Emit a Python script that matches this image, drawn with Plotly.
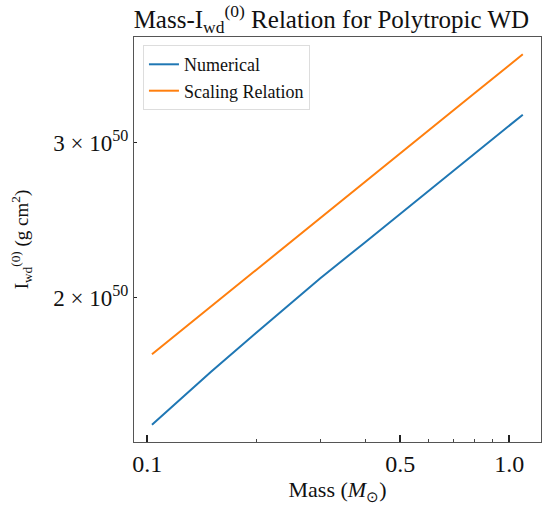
import plotly.graph_objects as go

# Data
mass = [0.103, 0.15, 0.2, 0.2543, 0.3, 0.4, 0.5, 0.6, 0.8, 1.0, 1.09]
numerical = [1.433e50, 1.647e50, 1.824e50, 1.986e50, 2.103e50, 2.313e50, 2.493e50,
             2.649e50, 2.915e50, 3.140e50, 3.231e50]
scaling = [1.724e50, 1.955e50, 2.151e50, 2.333e50, 2.462e50, 2.710e50, 2.920e50,
           3.103e50, 3.415e50, 3.678e50, 3.785e50]

x_ticks = [0.1, 0.5, 1.0]
x_ticktext = ["0.1", "0.5", "1.0"]
x_minor = [0.2, 0.3, 0.4, 0.6, 0.7, 0.8, 0.9]
y_ticks = [2e50, 3e50]
y_ticktext = ["2 × 10<sup>50</sup>", "3 × 10<sup>50</sup>"]

FONT = "Liberation Serif"

fig = go.Figure()
fig.add_trace(go.Scatter(x=mass, y=numerical, mode="lines", name="Numerical",
                         line=dict(color="#1f77b4", width=2)))
fig.add_trace(go.Scatter(x=mass, y=scaling, mode="lines", name="Scaling Relation",
                         line=dict(color="#ff7f0e", width=2)))

axis_common = dict(showline=True, mirror=True, linecolor="#555", linewidth=1.2,
                   showgrid=False, zeroline=False, ticks="inside", tickcolor="#222")

fig.update_xaxes(type="log", range=[-1.0368, 0.0877], tickmode="array",
                 tickvals=x_ticks, ticktext=x_ticktext, ticklen=7, tickwidth=1.5,
                 tickfont=dict(family=FONT, size=24, color="#111"),
                 minor=dict(tickvals=x_minor, ticks="inside", ticklen=3,
                            tickcolor="#444", tickwidth=1),
                 title=dict(text="Mass (<i>M</i><sub>⊙</sub>)",
                            font=dict(family=FONT, size=22, color="#111"), standoff=4),
                 **axis_common)
fig.update_yaxes(type="log", range=[50.1366, 50.5978], tickmode="array",
                 tickvals=y_ticks, ticktext=y_ticktext, ticklen=3, tickwidth=1,
                 tickfont=dict(family=FONT, size=23, color="#111"),
                 title=dict(text="I<sub>wd</sub><sup>(0)</sup> (g cm<sup>2</sup>)",
                            font=dict(family=FONT, size=19, color="#111"), standoff=19),
                 **axis_common)

fig.update_layout(
    width=545, height=506,
    margin=dict(l=134, r=4, t=37, b=64),
    paper_bgcolor="white", plot_bgcolor="white",
    title=dict(text="Mass-I<sub>wd</sub><sup>(0)</sup> Relation for Polytropic WD",
               font=dict(family=FONT, size=25, color="#111"),
               x=0.608, xanchor="center", y=1 - 19 / 506, yanchor="middle",
               xref="container", yref="container"),
    legend=dict(x=0.022, y=0.98, xanchor="left", yanchor="top",
                bgcolor="white", bordercolor="#ddd", borderwidth=1,
                font=dict(family=FONT, size=18, color="#111"),
                tracegroupgap=0, itemwidth=30),
    showlegend=True,
)

fig.write_html("out.html")
